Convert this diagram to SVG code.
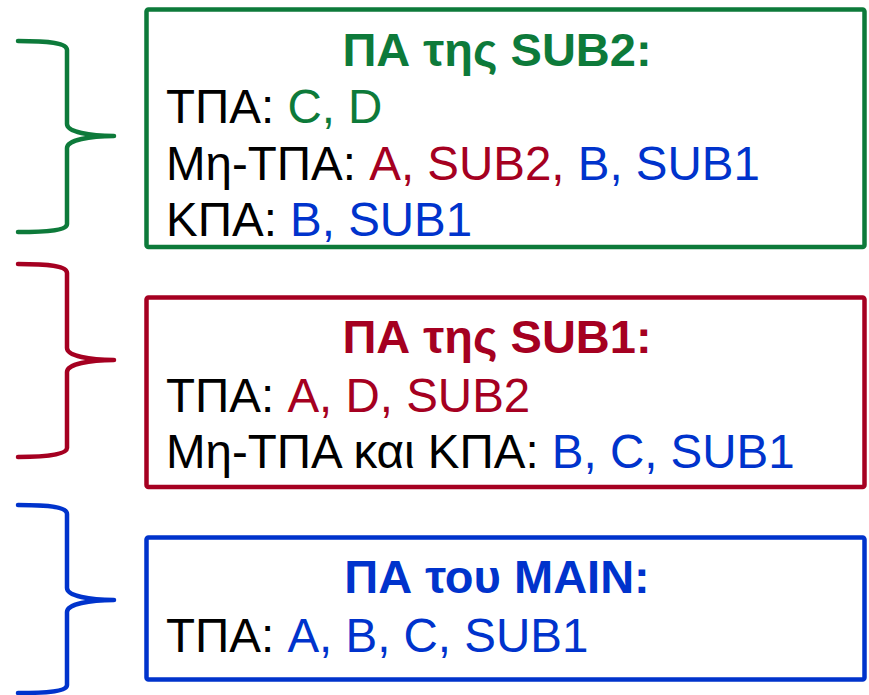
<svg xmlns="http://www.w3.org/2000/svg" width="869" height="695" viewBox="0 0 869 695">
<style>
.box{fill:#ffffff;stroke-width:4.5}
.brace{fill:none;stroke-width:4.5;stroke-linecap:round;stroke-linejoin:round}
.g{stroke:#0d7a3a}.r{stroke:#a50021}.b{stroke:#0033cc}
.t{font-family:"Liberation Sans",Arial,sans-serif;font-size:47.5px;fill:#000000}
.h{font-family:"Liberation Sans",Arial,sans-serif;font-size:47px;font-weight:bold;text-anchor:middle}
.cg{fill:#0d7a3a}.cr{fill:#a50021}.cb{fill:#0033cc}
</style>
<rect width="869" height="695" fill="#ffffff"/>
<g id="connectors">
<path class="brace g" d="M18,41 C50,41 67,43 67,50 L67,124 C67,132 90,136 114,136 C90,136 67,140 67,148 L67,224 C67,230 50,232 18,232"/>
<path class="brace r" d="M18,264 C50,264 67,266 67,273 L67,348 C67,356 90,360 114,360 C90,360 67,364 67,372 L67,448 C67,454 50,457 18,457"/>
<path class="brace b" d="M18,505 C50,505 67,507 67,514 L67,588 C67,596 90,600 114,600 C90,600 67,604 67,612 L67,685 C67,691 50,693 18,693"/>
</g>
<g id="sub2">
<rect class="box g" x="146.5" y="9.5" width="718" height="237.5" rx="2"/>
<text class="h cg" x="497" y="66">ΠΑ της SUB2:</text>
<text class="t" x="166" y="123">ΤΠΑ: <tspan class="cg">C, D</tspan></text>
<text class="t" x="166" y="180">Μη-ΤΠΑ: <tspan class="cr">A, SUB2,</tspan> <tspan class="cb">B, SUB1</tspan></text>
<text class="t" x="166" y="236">ΚΠΑ: <tspan class="cb">B, SUB1</tspan></text>
</g>
<g id="sub1">
<rect class="box r" x="146.5" y="297.5" width="718" height="189.5" rx="2"/>
<text class="h cr" x="497" y="353">ΠΑ της SUB1:</text>
<text class="t" x="166" y="412">ΤΠΑ: <tspan class="cr">A, D, SUB2</tspan></text>
<text class="t" x="166" y="468">Μη-ΤΠΑ και ΚΠΑ: <tspan class="cb">B, C, SUB1</tspan></text>
</g>
<g id="main">
<rect class="box b" x="146.5" y="537.5" width="718" height="142" rx="2"/>
<text class="h cb" x="497" y="593">ΠΑ του MAIN:</text>
<text class="t" x="166" y="652">ΤΠΑ: <tspan class="cb">A, B, C, SUB1</tspan></text>
</g>
</svg>
